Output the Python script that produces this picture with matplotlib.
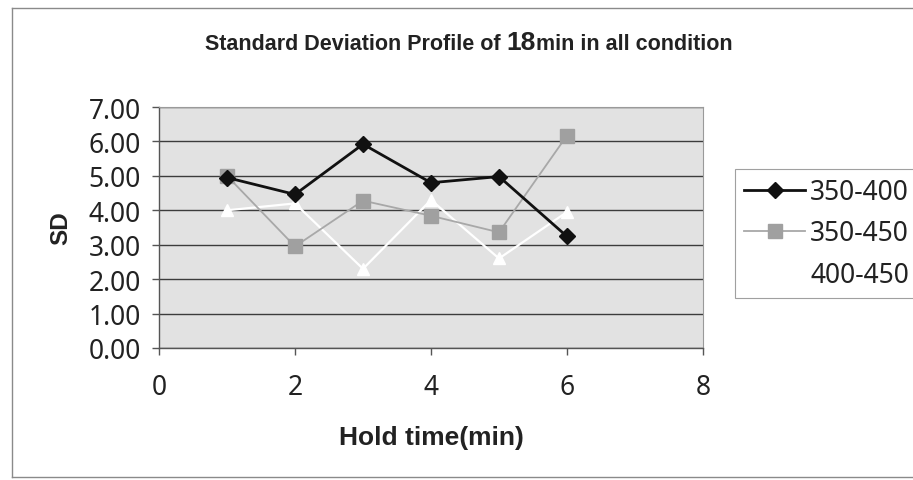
import matplotlib
matplotlib.use("Agg")
import matplotlib.pyplot as plt
from matplotlib.lines import Line2D

# hold time (min) and SD per temperature range
hold_time = [1, 2, 3, 4, 5, 6]
sd_350_400 = [4.95, 4.46, 5.92, 4.80, 4.98, 3.24]
sd_350_450 = [5.00, 2.95, 4.28, 3.84, 3.36, 6.17]
sd_400_450 = [4.00, 4.20, 2.30, 4.30, 2.60, 3.95]
series_names = ["350-400", "350-450", "400-450"]
y_ticks = [0, 1, 2, 3, 4, 5, 6, 7]
x_ticks = [0, 2, 4, 6, 8]

W, H = 913, 481
fig = plt.figure(figsize=(W / 100, H / 100), dpi=100)
fig.patch.set_facecolor("white")

# outer chart frame (left, top, bottom edges)
x0, ytop, ybot = 12 / W, 1 - 9 / H, 1 - 478 / H
for xs, ys in [([x0, x0], [ybot, ytop]), ([x0, 1], [ytop, ytop]), ([x0, 1], [ybot, ybot])]:
    fig.add_artist(Line2D(xs, ys, transform=fig.transFigure, color="#8a8a8a",
                          linewidth=1.0))

ax = fig.add_axes([159 / W, 1 - 349 / H, 544 / W, 241 / H])
ax.set_facecolor("#e2e2e2")
ax.set_xlim(0, 8)
ax.set_ylim(0, 7)
ax.set_xticks(x_ticks)
ax.set_yticks(y_ticks)
ax.set_yticklabels([f"{v:.2f}" for v in y_ticks])
ax.grid(axis="y", color="#3c3c3c", linewidth=1.0)
ax.set_axisbelow(True)
for side in ["top", "right"]:
    ax.spines[side].set_color("#9a9a9a")
    ax.spines[side].set_linewidth(0.8)
for side in ["left", "bottom"]:
    ax.spines[side].set_color("#555555")
    ax.spines[side].set_linewidth(1.0)
ax.tick_params(axis="both", labelsize=19, colors="#555555", labelcolor="#222222",
               length=5, width=1.0)
for lbl in ax.get_xticklabels() + ax.get_yticklabels():
    lbl.set_family("Noto Sans")
ax.tick_params(axis="x", pad=13)
ax.tick_params(axis="y", pad=8)

ax.plot(hold_time, sd_350_400, color="#111111", linewidth=2.0, marker="D",
        markersize=8, markerfacecolor="#111111", label=series_names[0], zorder=4)
ax.plot(hold_time, sd_350_450, color="#a8a8a8", linewidth=1.3, marker="s",
        markersize=10, markerfacecolor="#a0a0a0", markeredgecolor="#a0a0a0",
        label=series_names[1], zorder=3)
ax.plot(hold_time, sd_400_450, color="white", linewidth=1.6, marker="^",
        markersize=8, markerfacecolor="white", markeredgecolor="white",
        label=series_names[2], zorder=2)

ax.set_ylabel("SD", fontsize=17.5, fontweight="bold", family="Liberation Sans",
              labelpad=12, color="#222222")
ax.set_xlabel("Hold time(min)", fontsize=19, fontweight="bold",
              family="Liberation Sans", labelpad=17, color="#222222")

leg = fig.legend(loc="upper left", bbox_to_anchor=(735 / W, 1 - 170 / H),
                 bbox_transform=fig.transFigure, frameon=True,
                 prop={"family": "Noto Sans", "size": 19},
                 fancybox=False, borderaxespad=0, handlelength=2.3,
                 handletextpad=0.2, labelspacing=0.5, borderpad=0.35)
leg.get_frame().set_edgecolor("#888888")
leg.get_frame().set_linewidth(0.8)
for t in leg.get_texts():
    t.set_color("#222222")

# title in three runs, the number set a little larger
t1 = fig.text(205 / W, 1 - 50 / H, "Standard Deviation Profile of ",
              fontsize=15.5, fontweight="bold", family="Liberation Sans",
              color="#222222", va="baseline")
t2 = ax.annotate("18", xy=(1, 0), xycoords=t1, fontsize=19, fontweight="bold",
                 family="Liberation Sans", color="#222222", va="bottom",
                 annotation_clip=False)
ax.annotate("min in all condition", xy=(1, 0), xycoords=t2, fontsize=15.5,
            fontweight="bold", family="Liberation Sans", color="#222222",
            va="bottom", annotation_clip=False)

fig.savefig("out.png", dpi=100)
